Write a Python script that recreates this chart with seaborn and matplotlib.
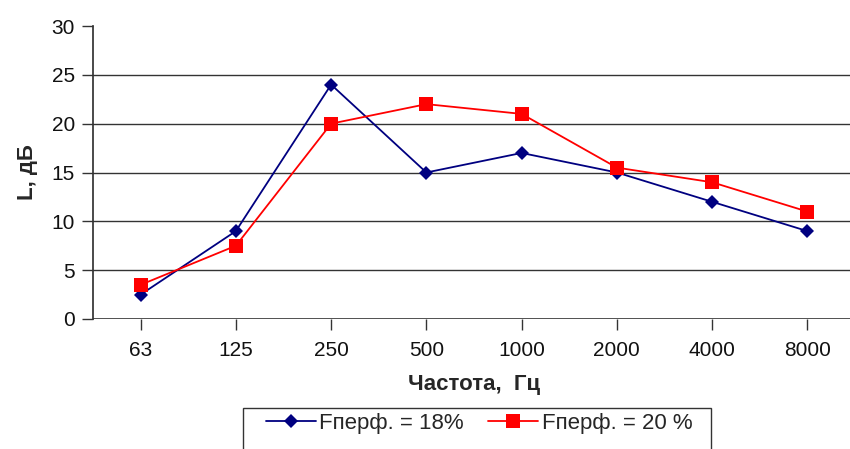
import matplotlib
matplotlib.use("Agg")
import matplotlib.pyplot as plt
from matplotlib.patches import Rectangle
import numpy as np
import pandas as pd
import seaborn as sns

freqs = ["63", "125", "250", "500", "1000", "2000", "4000", "8000"]
l_18 = [2.5, 9, 24, 15, 17, 15, 12, 9]
l_20 = [3.5, 7.5, 20, 22, 21, 15.5, 14, 11]
series_names = ["Fперф. = 18%", "Fперф. = 20 %"]

df = pd.DataFrame({
    "freq": freqs * 2,
    "L": l_18 + l_20,
    "series": [series_names[0]] * len(freqs) + [series_names[1]] * len(freqs),
})
df["x"] = np.tile(np.arange(len(freqs)), 2)

sns.set_theme(style="white")
plt.rcParams["font.family"] = ["Liberation Sans", "DejaVu Sans"]

W, H = 850, 449
fig = plt.figure(figsize=(W / 100, H / 100), dpi=100)
ax = fig.add_axes([93 / W, 1 - 319 / H, 762 / W, 293 / H])

palette = {series_names[0]: "#000080", series_names[1]: "#ff0000"}
markers = {series_names[0]: "D", series_names[1]: "s"}
sizes = {series_names[0]: 7.5, series_names[1]: 10}
for name in series_names:
    sub = df[df["series"] == name]
    sns.lineplot(data=sub, x="x", y="L", ax=ax, color=palette[name], marker=markers[name],
                 markersize=sizes[name], markeredgewidth=0, linewidth=1.3, label=name)

ax.set_xlim(-0.5, len(freqs) - 0.5)
ax.set_ylim(0, 30)
ax.set_yticks(range(0, 31, 5))
ax.set_xticks(range(len(freqs)))
ax.set_xticklabels(freqs)
for y in range(5, 30, 5):
    ax.axhline(y, color="#333333", linewidth=1, zorder=0)
ax.axhline(0, color="#333333", linewidth=1.2, zorder=0)
for s in ["top", "right", "bottom"]:
    ax.spines[s].set_visible(False)
ax.spines["left"].set_color("#333333")
ax.tick_params(axis="both", which="major", labelsize=15, length=8, color="#333333",
               left=True, bottom=True, width=1, labelcolor="#111111")
ax.tick_params(axis="x", pad=8)
ax.tick_params(axis="y", pad=5)
ax.set_xlabel("Частота,  Гц", fontsize=16, fontweight="bold", labelpad=10)
ax.set_ylabel("L, дБ", fontsize=16, fontweight="bold", labelpad=10)

# legend frame runs past the bottom edge of the picture
fig.patches.append(Rectangle((243 / W, 1 - 470 / H), (711 - 243) / W, 62 / H,
                             transform=fig.transFigure, fill=False, edgecolor="#333333", linewidth=1))
leg = ax.legend(loc="upper left", bbox_to_anchor=(266 / W, 1 - 413 / H), bbox_transform=fig.transFigure,
                ncol=2, fontsize=16, frameon=False, borderpad=0, borderaxespad=0,
                handlelength=2.25, columnspacing=1.1, handletextpad=0.15)

fig.savefig("out.png", dpi=100)
